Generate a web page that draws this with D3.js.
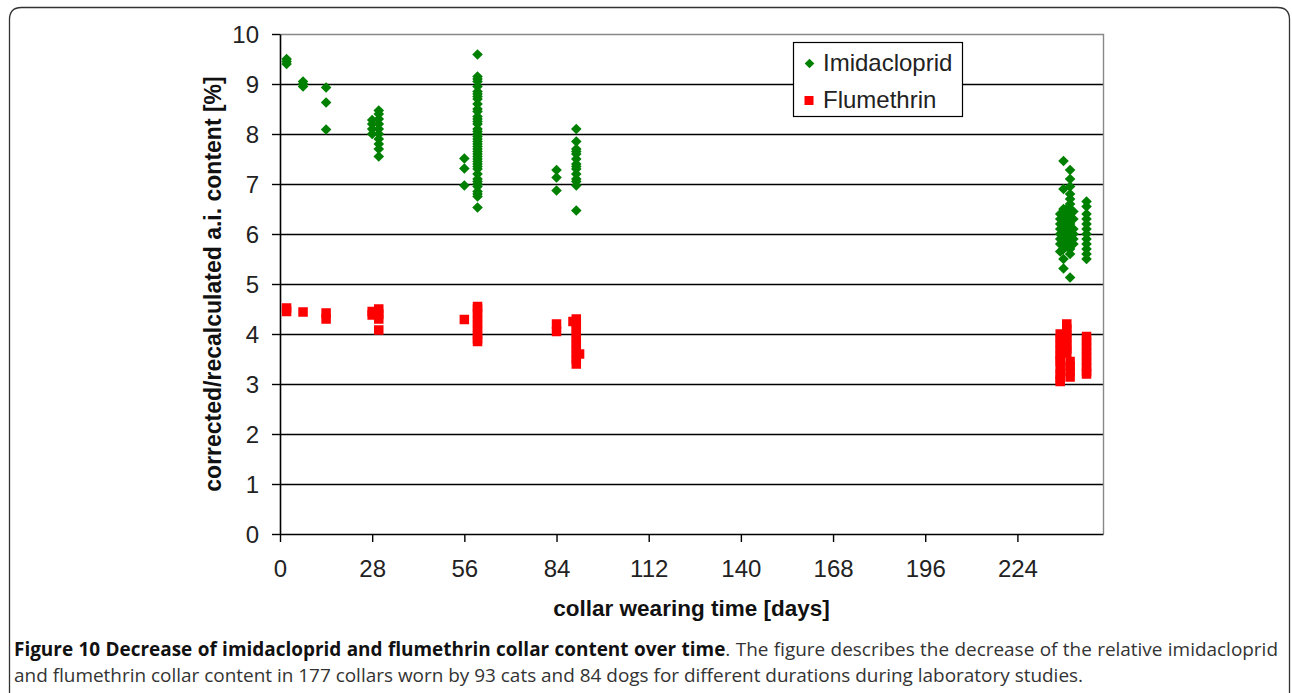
<!DOCTYPE html>
<html>
<head>
<meta charset="utf-8">
<script src="https://cdn.jsdelivr.net/npm/d3@7/dist/d3.min.js"></script>
<style>
  html, body { margin: 0; padding: 0; background: #fff; }
  svg { display: block; }
</style>
</head>
<body>
<svg id="chart" width="1292" height="693"></svg>
<script>
// ---- data ----
const xTicks = [0, 28, 56, 84, 112, 140, 168, 196, 224];
const yTicks = [0, 1, 2, 3, 4, 5, 6, 7, 8, 9, 10];
const seriesNames = ["Imidacloprid", "Flumethrin"];

// Imidacloprid: days and content % per day
const imidaclopridDays = [2, 7, 14, 28, 30, 56, 60, 84, 90, 237, 238, 239, 240, 241, 245];
const imidaclopridValues = [
  [9.5, 9.45, 9.4],
  [9.05, 9.0, 8.95],
  [8.93, 8.63, 8.09],
  [8.28, 8.2, 8.1, 8.0],
  [8.47, 8.4, 8.3, 8.2, 8.1, 8.0, 7.9, 7.8, 7.7, 7.55],
  [7.51, 7.31, 6.97],
  [9.59, 9.15, 9.1, 9.05, 8.95, 8.85, 8.8, 8.75, 8.7, 8.6, 8.5, 8.45, 8.35, 8.3, 8.25, 8.2, 8.1, 8.05, 8.0,
   7.95, 7.9, 7.85, 7.8, 7.75, 7.7, 7.65, 7.6, 7.55, 7.5, 7.45, 7.4, 7.35, 7.3, 7.2, 7.1, 7.05, 7.0, 6.95,
   6.85, 6.8, 6.75, 6.53],
  [7.28, 7.13, 6.87],
  [8.1, 7.85, 7.7, 7.65, 7.6, 7.5, 7.4, 7.35, 7.3, 7.2, 7.1, 7.05, 6.97, 6.47],
  [6.4, 6.3, 6.2, 6.1, 6.0, 5.9, 5.8, 5.65],
  [7.46, 6.9, 6.5, 6.3, 6.1, 5.9, 5.7, 5.5, 5.31],
  [6.5, 6.45, 6.35, 6.25, 6.15, 6.05, 5.95, 5.85, 5.75],
  [7.28, 7.1, 6.95, 6.8, 6.7, 6.6, 6.5, 6.4, 6.3, 6.2, 6.1, 6.0, 5.9, 5.8, 5.7, 5.6, 5.13],
  [6.45, 6.3, 6.1, 6.0, 5.9, 5.8],
  [6.65, 6.55, 6.4, 6.3, 6.2, 6.1, 6.0, 5.9, 5.8, 5.7, 5.6, 5.5]
];

// Flumethrin: days and content % per day
const flumethrinDays = [2, 7, 14, 28, 30, 56, 60, 84, 89, 90, 91, 237, 239, 240, 245];
const flumethrinValues = [
  [4.52, 4.45],
  [4.44],
  [4.42, 4.3],
  [4.45, 4.38],
  [4.5, 4.4, 4.3, 4.08],
  [4.29],
  [4.55, 4.5, 4.4, 4.3, 4.2, 4.1, 4.0, 3.9, 3.85],
  [4.2, 4.05],
  [4.25],
  [4.3, 4.2, 4.1, 4.0, 3.9, 3.8, 3.7, 3.6, 3.5, 3.4],
  [3.6],
  [4.0, 3.9, 3.8, 3.7, 3.6, 3.5, 3.45, 3.3, 3.2, 3.1, 3.05],
  [4.2, 4.1, 4.0, 3.9, 3.8, 3.7, 3.62],
  [3.45, 3.35, 3.25, 3.14],
  [3.95, 3.85, 3.75, 3.65, 3.55, 3.45, 3.35, 3.25, 3.2]
];

const xTitle = "collar wearing time [days]";
const yTitle = "corrected/recalculated a.i. content [%]";
const captionBold = "Figure 10 Decrease of imidacloprid and flumethrin collar content over time";
const captionRest1 = ". The figure describes the decrease of the relative imidacloprid";
const captionLine2 = "and flumethrin collar content in 177 collars worn by 93 cats and 84 dogs for different durations during laboratory studies.";

// ---- layout ----
const svg = d3.select("#chart");
const plot = { left: 280, right: 1103, top: 34, bottom: 534 };
const x = d3.scaleLinear().domain([0, 250]).range([plot.left, plot.right]);
const y = d3.scaleLinear().domain([0, 10]).range([plot.bottom, plot.top]);

// outer frame (rounded top corners, open at bottom)
const fr = { l: 9.5, r: 1289.5, t: 7.5, rad: 12 };
svg.append("path")
  .attr("d", `M${fr.l},700 L${fr.l},${fr.t + fr.rad} Q${fr.l},${fr.t} ${fr.l + fr.rad},${fr.t} L${fr.r - fr.rad},${fr.t} Q${fr.r},${fr.t} ${fr.r},${fr.t + fr.rad} L${fr.r},700`)
  .attr("fill", "none").attr("stroke", "#333").attr("stroke-width", 1.3);

// gridlines
svg.append("g").selectAll("line")
  .data(yTicks.filter(v => v > 0 && v < 10))
  .join("line")
  .attr("x1", plot.left).attr("x2", plot.right)
  .attr("y1", d => Math.round(y(d)) + 0.5).attr("y2", d => Math.round(y(d)) + 0.5)
  .attr("stroke", "#000").attr("stroke-width", 1.6);

// plot border (top / right gray)
svg.append("path")
  .attr("d", `M${plot.left},${plot.top + 0.5} L${plot.right + 0.5},${plot.top + 0.5} L${plot.right + 0.5},${plot.bottom}`)
  .attr("fill", "none").attr("stroke", "#888").attr("stroke-width", 1.4);

// axes
const fontTick = "'Liberation Sans', Arial, sans-serif";
const xAxis = svg.append("g")
  .attr("transform", `translate(0,${plot.bottom})`)
  .call(d3.axisBottom(x).tickValues(xTicks).tickSize(8).tickSizeOuter(0).tickPadding(18));
const yAxis = svg.append("g")
  .attr("transform", `translate(${plot.left},0)`)
  .call(d3.axisLeft(y).tickValues(yTicks).tickSize(8).tickSizeOuter(0).tickPadding(13));
[xAxis, yAxis].forEach(g => {
  g.select(".domain").attr("stroke", "#000").attr("stroke-width", 1.6);
  g.selectAll(".tick line").attr("stroke", "#000").attr("stroke-width", 1.4);
  g.selectAll(".tick text").attr("font-family", fontTick).attr("font-size", 24).attr("fill", "#222");
});
yAxis.selectAll(".tick text").attr("dy", "0.35em");

// markers
const imiPts = imidaclopridDays.flatMap((d, i) => imidaclopridValues[i].map(v => ({ day: d, val: v })));
const fluPts = flumethrinDays.flatMap((d, i) => flumethrinValues[i].map(v => ({ day: d, val: v })));

const diamond = (cx, cy, r) => `M${cx},${cy - r} L${cx + r},${cy} L${cx},${cy + r} L${cx - r},${cy} Z`;
const sq = 9.5;

svg.append("g").selectAll("rect")
  .data(fluPts).join("rect")
  .attr("x", d => x(d.day) - sq / 2).attr("y", d => y(d.val) - sq / 2)
  .attr("width", sq).attr("height", sq)
  .attr("fill", "#ff0000");

svg.append("g").selectAll("path")
  .data(imiPts).join("path")
  .attr("d", d => diamond(x(d.day), y(d.val), 5.3))
  .attr("fill", "#008000");

// legend
const lg = svg.append("g");
lg.append("rect").attr("x", 793.5).attr("y", 42.5).attr("width", 169).attr("height", 74)
  .attr("fill", "#fff").attr("stroke", "#000").attr("stroke-width", 1.2);
lg.append("path").attr("d", diamond(809.5, 63.5, 4.8)).attr("fill", "#008000");
lg.append("rect").attr("x", 804.5).attr("y", 96).attr("width", 9).attr("height", 9).attr("fill", "#ff0000");
lg.selectAll("text").data(seriesNames).join("text")
  .attr("x", 823).attr("y", (d, i) => 63 + i * 37)
  .attr("dy", "0.35em")
  .attr("font-family", fontTick).attr("font-size", 24).attr("fill", "#222")
  .text(d => d);

// axis titles
svg.append("text")
  .attr("x", (plot.left + plot.right) / 2).attr("y", 616)
  .attr("text-anchor", "middle")
  .attr("font-family", fontTick).attr("font-weight", "bold").attr("font-size", 22.5).attr("fill", "#111")
  .text(xTitle);
svg.append("text")
  .attr("transform", `translate(221,${(plot.top + plot.bottom) / 2}) rotate(-90)`)
  .attr("text-anchor", "middle")
  .attr("font-family", fontTick).attr("font-weight", "bold").attr("font-size", 23).attr("fill", "#111")
  .text(yTitle);

// caption
const capFont = "'Open Sans', 'Noto Sans', sans-serif";
const capSize = 18.95;
const c1 = svg.append("text").attr("x", 14).attr("y", 656)
  .attr("font-family", capFont).attr("font-size", capSize).attr("fill", "#333");
c1.append("tspan").attr("font-weight", "bold").attr("fill", "#111").text(captionBold);
c1.append("tspan").text(captionRest1);
// justify first line by word spacing
const natural = c1.node().getComputedTextLength();
const nSpaces = (captionBold + captionRest1).split(" ").length - 1;
const ws = (1264 - natural) / nSpaces;
c1.attr("word-spacing", ws);
svg.append("text").attr("x", 14).attr("y", 682)
  .attr("font-family", capFont).attr("font-size", capSize).attr("fill", "#333")
  .text(captionLine2);
</script>
</body>
</html>
